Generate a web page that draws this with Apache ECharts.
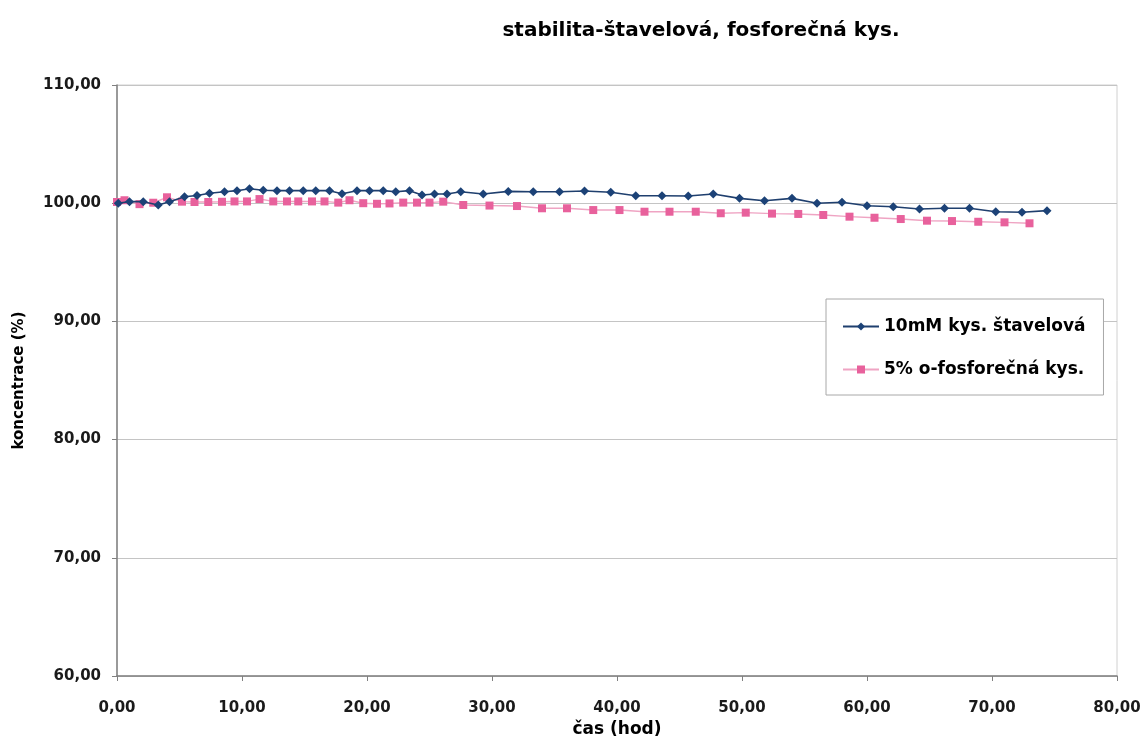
<!DOCTYPE html>
<html>
<head>
<meta charset="utf-8">
<script src="https://cdn.jsdelivr.net/npm/echarts@6/dist/echarts.min.js"></script>
<style>html,body{margin:0;padding:0;background:#fff}#c{width:1146px;height:742px}</style>
</head>
<body>
<div id="c"></div>
<script>
var titleText = 'stabilita-štavelová, fosforečná kys.';
var xName = 'čas (hod)';
var yName = 'koncentrace (%)';
var seriesNames = ['10mM kys. štavelová', '5% o-fosforečná kys.'];

var oxalicTime = [0.1, 1.0, 2.1, 3.3, 4.2, 5.4, 6.4, 7.4, 8.6, 9.6, 10.6, 11.7, 12.8, 13.8, 14.9, 15.9, 17.0, 18.0, 19.2, 20.2, 21.3, 22.3, 23.4, 24.4, 25.4, 26.4, 27.5, 29.3, 31.3, 33.3, 35.4, 37.4, 39.5, 41.5, 43.6, 45.7, 47.7, 49.8, 51.8, 54.0, 56.0, 58.0, 60.0, 62.1, 64.2, 66.2, 68.2, 70.3, 72.4, 74.4];
var oxalicConc = [99.99, 100.13, 100.13, 99.85, 100.13, 100.55, 100.65, 100.84, 100.97, 101.06, 101.22, 101.1, 101.06, 101.06, 101.06, 101.06, 101.06, 100.8, 101.06, 101.06, 101.06, 100.97, 101.06, 100.7, 100.78, 100.78, 100.97, 100.78, 101.0, 100.97, 100.97, 101.03, 100.92, 100.63, 100.63, 100.61, 100.78, 100.41, 100.21, 100.41, 99.99, 100.08, 99.79, 99.70, 99.51, 99.57, 99.57, 99.28, 99.23, 99.37];

var phosTime = [0.0, 0.6, 1.8, 2.9, 4.0, 5.2, 6.2, 7.3, 8.4, 9.4, 10.4, 11.4, 12.5, 13.6, 14.5, 15.6, 16.6, 17.7, 18.6, 19.7, 20.8, 21.8, 22.9, 24.0, 25.0, 26.1, 27.7, 29.8, 32.0, 34.0, 36.0, 38.1, 40.2, 42.2, 44.2, 46.3, 48.3, 50.3, 52.4, 54.5, 56.5, 58.6, 60.6, 62.7, 64.8, 66.8, 68.9, 71.0, 73.0];
var phosConc = [100.1, 100.25, 99.92, 100.04, 100.5, 100.13, 100.1, 100.1, 100.12, 100.15, 100.15, 100.35, 100.15, 100.15, 100.15, 100.15, 100.15, 100.05, 100.25, 100.0, 99.95, 99.98, 100.05, 100.05, 100.05, 100.13, 99.85, 99.8, 99.76, 99.57, 99.57, 99.42, 99.42, 99.28, 99.28, 99.28, 99.15, 99.2, 99.12, 99.09, 99.0, 98.86, 98.77, 98.66, 98.52, 98.49, 98.43, 98.38, 98.30];

var xTicks = {min: 0, max: 80, interval: 10};
var yTicks = {min: 60, max: 110, interval: 10};

function pairs(xs, ys) { return xs.map(function (x, i) { return [x, ys[i]]; }); }
function fmt(v) { return v.toFixed(2).replace('.', ','); }

var chart = echarts.init(document.getElementById('c'), null, {renderer: 'canvas'});
var FONT = 'DejaVu Sans, Liberation Sans, sans-serif';
chart.setOption({
  animation: false,
  backgroundColor: '#ffffff',
  title: {
    text: titleText, left: 696, top: 16, textAlign: 'center',
    textStyle: {fontFamily: FONT, fontSize: 20, fontWeight: 'bold', color: '#000'}
  },
  grid: {left: 117, right: 29, top: 85, bottom: 66, outerBoundsMode: 'none',
    show: true, borderColor: '#d0d0d0', borderWidth: 1, backgroundColor: 'transparent'},
  legend: {
    orient: 'vertical', left: 826, top: 299,
    padding: [19, 18, 17, 16], itemGap: 26, itemWidth: 36, itemHeight: 10,
    backgroundColor: '#fff', borderColor: '#a8a8a8', borderWidth: 1,
    textStyle: {fontFamily: FONT, fontSize: 17, color: '#000', fontWeight: 'bold'},
    data: seriesNames
  },
  xAxis: {
    type: 'value', min: xTicks.min, max: xTicks.max, interval: xTicks.interval,
    name: xName, nameLocation: 'middle', nameGap: 42,
    nameTextStyle: {fontFamily: FONT, fontSize: 17, fontWeight: 'bold', color: '#000'},
    axisLine: {show: true, lineStyle: {color: '#808080', width: 1.5}},
    axisTick: {show: true, length: 5, inside: false, lineStyle: {color: '#808080'}},
    axisLabel: {margin: 19, padding: [6, 0, 0, 0], formatter: fmt, fontFamily: FONT, fontSize: 15, fontWeight: 'bold', color: '#1a1a1a'},
    splitLine: {show: false}
  },
  yAxis: {
    type: 'value', min: yTicks.min, max: yTicks.max, interval: yTicks.interval,
    name: yName, nameLocation: 'middle', nameGap: 90, nameRotate: 90,
    nameTextStyle: {fontFamily: FONT, fontSize: 15, fontWeight: 'bold', color: '#000'},
    axisLine: {show: true, lineStyle: {color: '#808080', width: 1.5}},
    axisTick: {show: true, length: 5, inside: false, lineStyle: {color: '#808080'}},
    axisLabel: {margin: 16, formatter: fmt, fontFamily: FONT, fontSize: 15, fontWeight: 'bold', color: '#1a1a1a'},
    splitLine: {show: true, lineStyle: {color: '#c4c4c4', width: 1}}
  },
  series: [
    {
      name: seriesNames[0], type: 'line', data: pairs(oxalicTime, oxalicConc),
      symbol: 'diamond', symbolSize: 9, showAllSymbol: true,
      lineStyle: {color: '#1f3f6e', width: 1.6},
      itemStyle: {color: '#1c4277', borderWidth: 0},
      z: 3
    },
    {
      name: seriesNames[1], type: 'line', data: pairs(phosTime, phosConc),
      symbol: 'rect', symbolSize: 8, showAllSymbol: true,
      lineStyle: {color: '#efa4c3', width: 1.4},
      itemStyle: {color: '#e8619c', borderWidth: 0},
      z: 2
    }
  ]
});
</script>
</body>
</html>
